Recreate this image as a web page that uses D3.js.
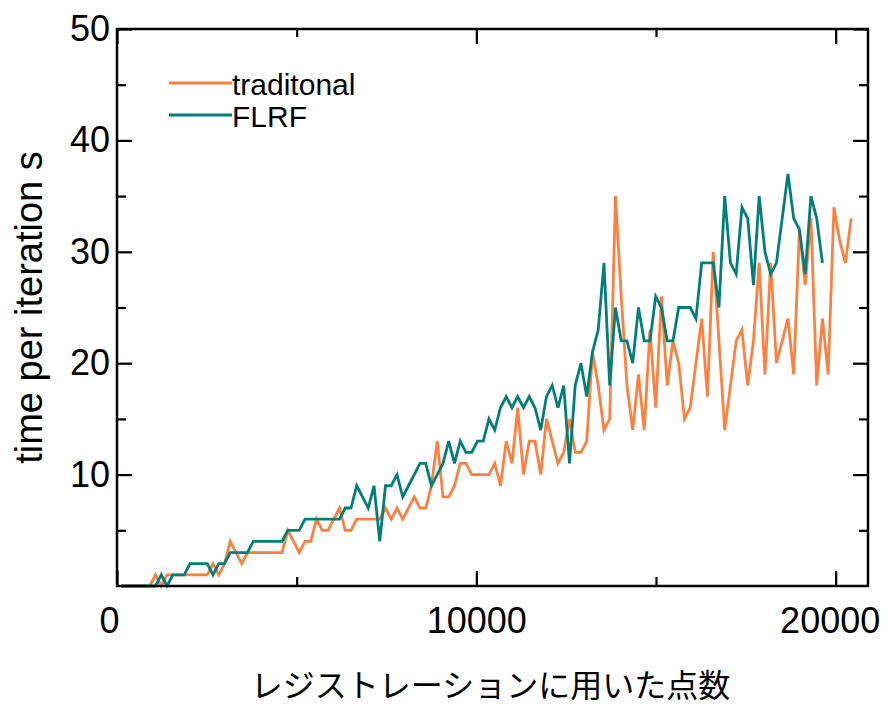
<!DOCTYPE html>
<html>
<head>
<meta charset="utf-8">
<script src="https://cdn.jsdelivr.net/npm/d3@7"></script>
<style>
  body { margin: 0; background: #fff; }
  text { font-family: "Liberation Sans", Arial, sans-serif; fill: #000; }
</style>
</head>
<body>
<div id="chart"></div>
<script>
// number of points used for registration (x)
const pointCounts = [112,272,432,592,752,912,1072,1232,1392,1552,1712,1872,2032,2192,2352,2512,
  2672,2832,2992,3152,3312,3472,3632,3792,3952,4112,4272,4432,4592,4752,4912,5072,
  5232,5392,5552,5712,5872,6032,6192,6352,6512,6672,6832,6992,7152,7312,7472,7632,
  7792,7952,8112,8272,8432,8592,8752,8912,9072,9232,9392,9552,9712,9872,10032,10192,
  10352,10512,10672,10832,10992,11152,11312,11472,11632,11792,11952,12112,12272,12432,12592,12752,
  12912,13072,13232,13392,13552,13712,13872,14032,14192,14352,14512,14672,14832,14992,15152,15312,
  15472,15632,15792,15952,16112,16272,16432,16592,16752,16912,17072,17232,17392,17552,17712,17872,
  18032,18192,18352,18512,18672,18832,18992,19152,19312,19472,19632,19792,19952,20112,20272,20432];

// time per iteration (s)
const traditional = [0,0,0,0,0,0,1,0,1,1,1,1,1,1,1,1,
  2,1,2,4,3,2,3,3,3,3,3,3,3,5,4,3,
  4,4,6,5,5,6,7,5,5,6,6,6,6,6,7,6,
  7,6,7,8,7,7,9,13,8,8,9,11,11,10,10,10,
  10,11,9,13,11,16,10,13,13,10,15,13,11,12,15,12,
  12,13,21,18,14,15,35,26,18,14,19,14,23,16,26,18,
  22,20,15,16,20,24,17,30,22,14,18,22,23,18,22,29,
  19,29,20,22,24,19,32,27,33,18,24,19,34,31,29,33];

const flrf = [0,0,0,0,0,0,0,1,0,1,1,1,2,2,2,2,
  1,2,2,3,3,3,3,4,4,4,4,4,4,5,5,5,
  6,6,6,6,6,6,6,7,7,9,8,7,9,4,9,9,
  10,8,9,10,11,11,9,10,11,13,11,13,12,12,13,13,
  15,14,16,17,16,17,16,17,16,14,17,18,16,18,11,18,
  20,17,21,23,29,18,25,22,22,20,25,22,22,26,25,22,
  22,25,25,25,24,29,29,29,25,35,29,28,34,33,27,35,
  30,28,29,33,37,33,32,28,35,33,29];

const seriesNames = ["traditonal", "FLRF"];
const seriesColors = ["#ff7f3f", "#007f78"];

const xMajor = [0, 10000, 20000];
const xMinor = [5000, 15000];
const yMajor = [10, 20, 30, 40, 50];
const yMinor = [5, 15, 25, 35, 45];

const width = 890, height = 710;
const margin = {top: 29, right: 22, bottom: 124, left: 117};
const iw = width - margin.left - margin.right;
const ih = height - margin.top - margin.bottom;

const svg = d3.select("#chart").append("svg")
  .attr("width", width).attr("height", height)
  .style("background", "#fff");

const g = svg.append("g").attr("transform", `translate(${margin.left},${margin.top})`);

const x = d3.scaleLinear().domain([0, 20900]).range([0, iw]);
const y = d3.scaleLinear().domain([0, 50]).range([ih, 0]);

// series lines
const line = d3.line()
  .x((d, i) => x(pointCounts[i]))
  .y(d => y(d));

[traditional, flrf].forEach((s, i) => {
  g.append("path")
    .datum(s)
    .attr("d", line)
    .attr("fill", "none")
    .attr("stroke", seriesColors[i])
    .attr("stroke-width", 2.8);
});

// axes, ticks pointing inward
function styleAxis(sel) {
  sel.select(".domain").remove();
  sel.selectAll(".tick line").attr("stroke", "#000").attr("stroke-width", 2.2);
  sel.selectAll("text").style("font-size", "36px").attr("fill", "#000");
}

g.append("g").attr("transform", `translate(0,${ih})`)
  .call(d3.axisBottom(x).tickValues(xMajor).tickSize(-15).tickPadding(21).tickFormat(d3.format("d")))
  .call(styleAxis)
  .selectAll("text").attr("dx", d => d === 0 ? -8 : d === 20000 ? -6 : 0);
g.append("g").attr("transform", `translate(0,${ih})`)
  .call(d3.axisBottom(x).tickValues(xMinor).tickSize(-9).tickFormat(""))
  .call(styleAxis);
g.append("g")
  .call(d3.axisTop(x).tickValues(xMajor).tickSize(-15).tickFormat(""))
  .call(styleAxis);
g.append("g")
  .call(d3.axisTop(x).tickValues(xMinor).tickSize(-8).tickFormat(""))
  .call(styleAxis);

g.append("g")
  .call(d3.axisLeft(y).tickValues(yMajor).tickSize(-15).tickPadding(7))
  .call(styleAxis);
g.append("g")
  .call(d3.axisLeft(y).tickValues(yMinor).tickSize(-9).tickFormat(""))
  .call(styleAxis);
g.append("g").attr("transform", `translate(${iw},0)`)
  .call(d3.axisRight(y).tickValues(yMajor).tickSize(-15).tickFormat(""))
  .call(styleAxis);
g.append("g").attr("transform", `translate(${iw},0)`)
  .call(d3.axisRight(y).tickValues(yMinor).tickSize(-9).tickFormat(""))
  .call(styleAxis);

// frame
g.append("rect")
  .attr("x", 0).attr("y", 0)
  .attr("width", iw).attr("height", ih)
  .attr("fill", "none")
  .attr("stroke", "#000")
  .attr("stroke-width", 2.5);

// legend
const legend = g.append("g").attr("transform", "translate(52,54)");
seriesNames.forEach((name, i) => {
  const ly = i * 32;
  legend.append("line")
    .attr("x1", 0).attr("x2", 63)
    .attr("y1", ly).attr("y2", ly)
    .attr("stroke", seriesColors[i])
    .attr("stroke-width", 2.8);
  legend.append("text")
    .attr("x", 63).attr("y", ly + 12)
    .style("font-size", "30px")
    .text(name);
});

// axis titles
svg.append("text")
  .attr("x", margin.left + iw / 2 - 2)
  .attr("y", 697)
  .attr("text-anchor", "middle")
  .style("font-family", "'Noto Sans CJK JP', sans-serif")
  .style("font-size", "32px")
  .text("レジストレーションに用いた点数");

svg.append("text")
  .attr("transform", `translate(42,${margin.top + ih / 2}) rotate(-90)`)
  .attr("text-anchor", "middle")
  .style("font-size", "38px")
  .text("time per iteration s");
</script>
</body>
</html>
